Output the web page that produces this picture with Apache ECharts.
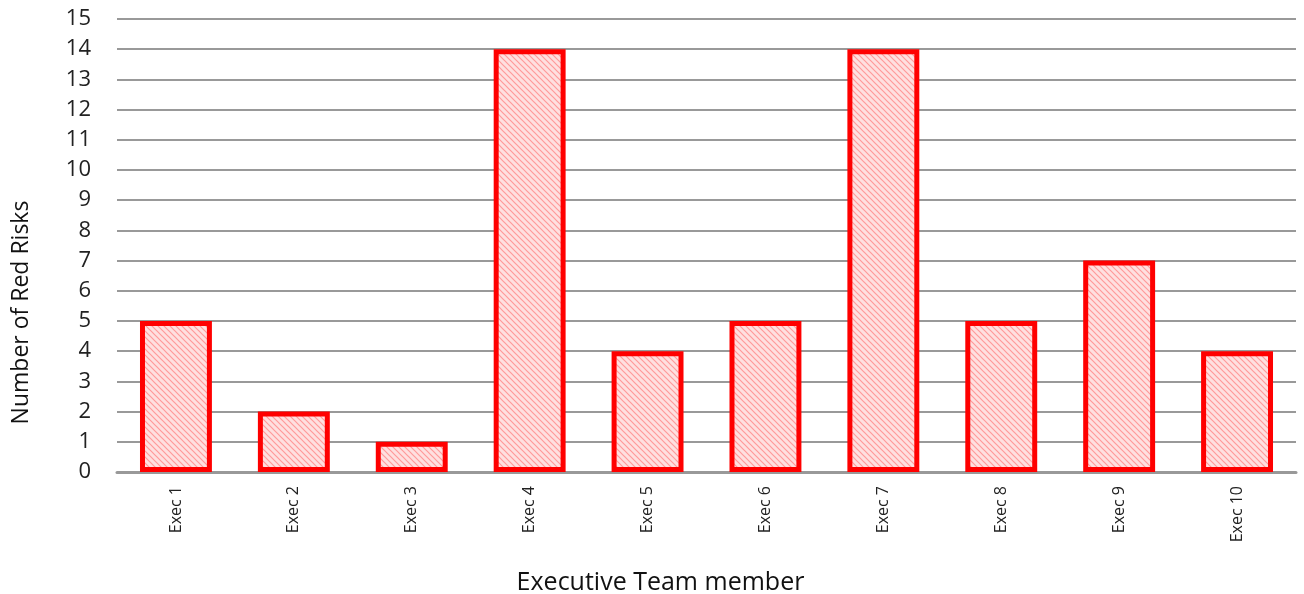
<!DOCTYPE html>
<html>
<head>
<meta charset="utf-8">
<script src="https://cdn.jsdelivr.net/npm/echarts@6/dist/echarts.min.js"></script>
<style>
  html, body { margin: 0; padding: 0; background: #fff; }
  #main { width: 1304px; height: 594px; }
</style>
</head>
<body>
<div id="main"></div>
<script>
// chart data
var execNames = ['Exec 1', 'Exec 2', 'Exec 3', 'Exec 4', 'Exec 5', 'Exec 6', 'Exec 7', 'Exec 8', 'Exec 9', 'Exec 10'];
var redRisks = [5, 2, 1, 14, 4, 5, 14, 5, 7, 4];
var yTicks = { min: 0, max: 15, step: 1 };

// diagonal hatch fill for the bars
function hatch() {
  var c = document.createElement('canvas');
  c.width = 6; c.height = 6;
  var g = c.getContext('2d');
  g.fillStyle = '#ffe0e0';
  g.fillRect(0, 0, 6, 6);
  g.strokeStyle = '#ff9a9a';
  g.lineWidth = 1.2;
  g.beginPath();
  g.moveTo(-1, -1); g.lineTo(7, 7);
  g.moveTo(-4, 2); g.lineTo(4, 10);
  g.moveTo(2, -4); g.lineTo(10, 4);
  g.stroke();
  return c;
}

var myChart = echarts.init(document.getElementById('main'));
var font = '"Open Sans", "Liberation Sans", sans-serif';

var option = {
  animation: false,
  grid: { left: 117, right: 8, top: 19, bottom: 122, outerBoundsMode: 'none' },
  xAxis: {
    type: 'category',
    data: execNames,
    name: 'Executive Team member',
    nameLocation: 'middle',
    nameGap: 98,
    nameTextStyle: { fontSize: 25, color: '#111', fontFamily: font, padding: [0, 92, 0, 0] },
    axisLine: { lineStyle: { color: '#999', width: 3 } },
    axisTick: { show: false },
    axisLabel: { rotate: 90, fontSize: 16, color: '#222', margin: 14, fontFamily: font }
  },
  yAxis: {
    type: 'value',
    min: yTicks.min,
    max: yTicks.max,
    interval: yTicks.step,
    name: 'Number of Red Risks',
    nameLocation: 'middle',
    nameGap: 84,
    nameTextStyle: { fontSize: 23, color: '#111', fontFamily: font, padding: [0, 134, 0, 0] },
    axisLine: { show: false },
    axisTick: { show: false },
    axisLabel: { fontSize: 22, color: '#222', margin: 26, fontFamily: font },
    splitLine: { lineStyle: { color: '#999', width: 2 } }
  },
  series: [{
    type: 'bar',
    data: redRisks,
    barWidth: '61%',
    itemStyle: {
      color: { image: hatch(), repeat: 'repeat' },
      borderColor: '#ff0000',
      borderWidth: 5
    }
  }]
};
myChart.setOption(option);
</script>
</body>
</html>
